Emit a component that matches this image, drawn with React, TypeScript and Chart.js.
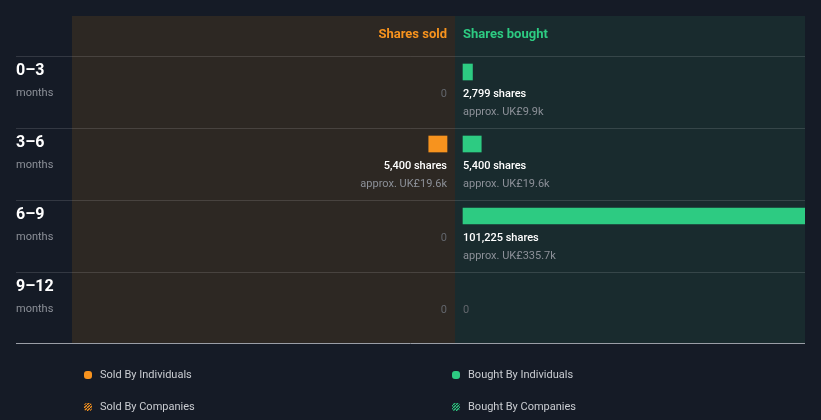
import { useEffect, useRef } from "react";
import { Chart, registerables } from "chart.js";

Chart.register(...registerables);

const periods = ["0–3", "3–6", "6–9", "9–12"];
const periodUnit = "months";
const soldByIndividuals = [0, 5400, 0, 0];
const soldByCompanies = [0, 0, 0, 0];
const boughtByIndividuals = [2799, 5400, 101225, 0];
const boughtByCompanies = [0, 0, 0, 0];
const soldValueLabels = ["", "UK£19.6k", "", ""];
const boughtValueLabels = ["UK£9.9k", "UK£19.6k", "UK£335.7k", ""];
const headerSold = "Shares sold";
const headerBought = "Shares bought";
const legendLabels = ["Sold By Individuals", "Sold By Companies", "Bought By Individuals", "Bought By Companies"];

const BG = "#151b26";
const SOLD_BG = "#2d2823";
const BOUGHT_BG = "#192b2e";
const ORANGE = "#f7931e";
const GREEN = "#2dcb82";
const FONT = "Roboto, 'Noto Sans', sans-serif";

function hatch(ctx: CanvasRenderingContext2D, color: string) {
  const c = document.createElement("canvas");
  c.width = 3;
  c.height = 3;
  const p = c.getContext("2d")!;
  p.strokeStyle = color;
  p.lineWidth = 1.3;
  p.beginPath();
  p.moveTo(-1, 4);
  p.lineTo(4, -1);
  p.stroke();
  return ctx.createPattern(c, "repeat")!;
}

export default function App() {
  const ref = useRef<HTMLCanvasElement>(null);

  useEffect(() => {
    document.body.style.margin = "0";
    document.body.style.background = BG;
    const canvas = ref.current!;
    const maxVal = Math.max(...soldByIndividuals, ...soldByCompanies, ...boughtByIndividuals, ...boughtByCompanies);
    const BAR_SPAN = 342;
    const unit = maxVal / BAR_SPAN;
    const gap = 8 * unit;
    const xMin = -383 * unit;
    const xMax = 350 * unit;
    const rowOffset = 16 / 72;

    const toSold = (arr: number[]) =>
      arr.map((v, i) => ({ x: v > 0 ? [-gap, -gap - v] : null, y: i + rowOffset }));
    const toBought = (arr: number[]) =>
      arr.map((v, i) => ({ x: v > 0 ? [gap, gap + v] : null, y: i + rowOffset }));

    const fmt = (n: number) => n.toLocaleString("en-US");

    const plugin = {
      id: "insider",
      beforeDraw(chart: any) {
        const { ctx, chartArea: a, scales } = chart;
        const x = scales.x;
        const y = scales.y;
        ctx.save();
        ctx.fillStyle = BG;
        ctx.fillRect(0, 0, chart.width, chart.height);
        const cx = Math.round(x.getPixelForValue(0));
        const top = a.top - 40;
        ctx.fillStyle = SOLD_BG;
        ctx.fillRect(a.left, top, cx - a.left, a.bottom - 1 - top);
        ctx.fillStyle = BOUGHT_BG;
        ctx.fillRect(cx, top, a.right - cx, a.bottom - 1 - top);
        ctx.strokeStyle = "rgba(255,255,255,0.13)";
        ctx.lineWidth = 1;
        for (let i = 0; i < periods.length; i++) {
          const yy = Math.round(y.getPixelForValue(i)) + 0.5;
          ctx.beginPath();
          ctx.moveTo(16, yy);
          ctx.lineTo(a.right, yy);
          ctx.stroke();
        }
        ctx.strokeStyle = "#9a9ea6";
        const by = Math.round(a.bottom) - 0.5;
        ctx.beginPath();
        ctx.moveTo(16, by);
        ctx.lineTo(a.right, by);
        ctx.stroke();
        // headers
        ctx.textBaseline = "middle";
        ctx.font = `bold 13px ${FONT}`;
        ctx.fillStyle = ORANGE;
        ctx.textAlign = "right";
        ctx.fillText(headerSold, cx - 8, a.top - 21);
        ctx.fillStyle = GREEN;
        ctx.textAlign = "left";
        ctx.fillText(headerBought, cx + 8, a.top - 21);
        // row labels
        for (let i = 0; i < periods.length; i++) {
          const t = y.getPixelForValue(i);
          ctx.textAlign = "left";
          ctx.font = `bold 16px ${FONT}`;
          ctx.fillStyle = "#ffffff";
          ctx.fillText(periods[i], 16, t + 15);
          ctx.font = `11px ${FONT}`;
          ctx.fillStyle = "#8c9098";
          ctx.fillText(periodUnit, 16, t + 37);
        }
        ctx.restore();
      },
      afterDatasetsDraw(chart: any) {
        const { ctx, scales } = chart;
        const x = scales.x;
        const y = scales.y;
        const cx = Math.round(x.getPixelForValue(0));
        ctx.save();
        ctx.textBaseline = "middle";
        const side = (vals: number[], labels: string[], xx: number, align: CanvasTextAlign) => {
          ctx.textAlign = align;
          for (let i = 0; i < periods.length; i++) {
            const t = y.getPixelForValue(i);
            if (vals[i] === 0) {
              ctx.font = `11px ${FONT}`;
              ctx.fillStyle = "#62666c";
              ctx.fillText("0", xx, t + 38);
            } else {
              ctx.font = `500 11px ${FONT}`;
              ctx.fillStyle = "#ffffff";
              ctx.fillText(`${fmt(vals[i])} shares`, xx, t + 38);
              ctx.font = `11px ${FONT}`;
              ctx.fillStyle = "#8c9098";
              ctx.fillText(`approx. ${labels[i]}`, xx, t + 56);
            }
          }
        };
        const soldTotal = soldByIndividuals.map((v, i) => v + soldByCompanies[i]);
        const boughtTotal = boughtByIndividuals.map((v, i) => v + boughtByCompanies[i]);
        side(soldTotal, soldValueLabels, cx - 8, "right");
        side(boughtTotal, boughtValueLabels, cx + 8, "left");
        ctx.restore();
      },
      afterDraw(chart: any) {
        const { ctx } = chart;
        ctx.save();
        const cols = [84, 452];
        const rows = [375, 407];
        const colors = [ORANGE, ORANGE, GREEN, GREEN];
        ctx.textBaseline = "middle";
        ctx.textAlign = "left";
        ctx.font = `11px ${FONT}`;
        legendLabels.forEach((lab, k) => {
          const col = cols[Math.floor(k / 2)];
          const row = rows[k % 2];
          const companies = k % 2 === 1;
          ctx.fillStyle = companies ? hatch(ctx, colors[k]) : colors[k];
          ctx.beginPath();
          (ctx as any).roundRect(col, row - 4, 8, 8, 3);
          ctx.fill();
          ctx.fillStyle = "#c9ccd1";
          ctx.fillText(lab, col + 16, row);
        });
        ctx.restore();
      },
    };

    const chart = new Chart(canvas, {
      type: "bar",
      data: {
        datasets: [
          { label: legendLabels[0], data: toSold(soldByIndividuals) as any, backgroundColor: ORANGE },
          { label: legendLabels[1], data: toSold(soldByCompanies) as any, backgroundColor: ORANGE },
          { label: legendLabels[2], data: toBought(boughtByIndividuals) as any, backgroundColor: GREEN },
          { label: legendLabels[3], data: toBought(boughtByCompanies) as any, backgroundColor: GREEN },
        ],
      },
      options: {
        indexAxis: "y",
        responsive: false,
        animation: false,
        devicePixelRatio: 1,
        layout: { padding: { left: 72, right: 16, top: 56, bottom: 76 } },
        datasets: { bar: { barThickness: 16, grouped: false, borderWidth: 0 } as any },
        scales: {
          x: { type: "linear", min: xMin, max: xMax, display: false },
          y: { type: "linear", min: 0, max: periods.length, reverse: true, display: false, offset: false },
        },
        plugins: { legend: { display: false }, tooltip: { enabled: false } },
      },
      plugins: [plugin],
    });
    return () => chart.destroy();
  }, []);

  return <canvas ref={ref} width={821} height={420} style={{ display: "block" }} />;
}
